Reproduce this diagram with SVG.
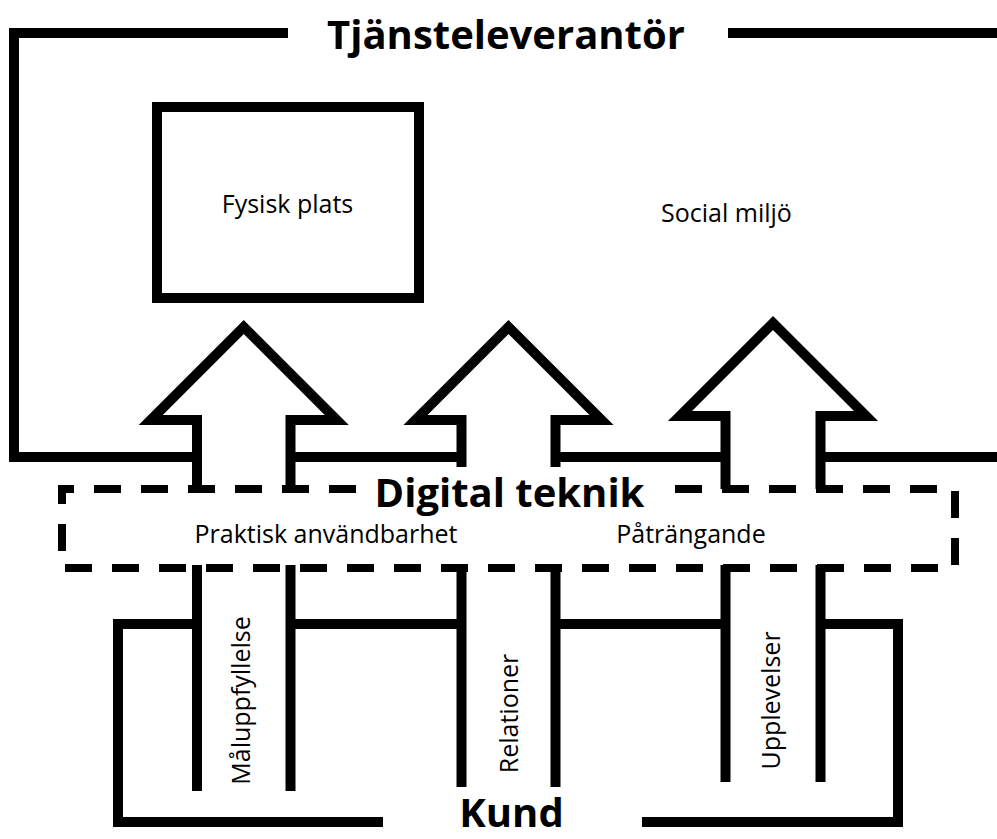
<svg xmlns="http://www.w3.org/2000/svg" width="997" height="839" viewBox="0 0 997 839">
<style>
.ln{fill:none;stroke:#000;stroke-width:10;stroke-linecap:butt;stroke-linejoin:miter;stroke-miterlimit:10}
.dash{fill:none;stroke:#000;stroke-width:8;stroke-dasharray:27 20}
.t{font-family:"Open Sans","Noto Sans",sans-serif;fill:#000;text-anchor:middle}
.b{font-weight:bold;font-size:40px}
.r{font-size:25px}
</style>
<rect width="997" height="839" fill="#fff"/>
<g id="tjansteleverantor">
<polyline class="ln" points="288,33 14,33 14,457 197,457"/>
<line class="ln" x1="728" y1="33" x2="997" y2="33"/>
<line class="ln" x1="290.5" y1="457" x2="461.5" y2="457"/>
<line class="ln" x1="555.5" y1="457" x2="725.5" y2="457"/>
<line class="ln" x1="820.5" y1="457" x2="997" y2="457"/>
<text class="t b" x="506" y="49">Tjänsteleverantör</text>
</g>
<g id="fysisk-plats">
<rect class="ln" x="157" y="107" width="262" height="191"/>
<text class="t r" x="287.5" y="213">Fysisk plats</text>
</g>
<g id="social-miljo">
<text class="t r" x="726.5" y="222">Social miljö</text>
</g>
<g id="digital-teknik">
<path class="dash" d="M356,489 H62 V568 H955 V489 H660"/>
<text class="t b" x="509.5" y="507">Digital teknik</text>
<text class="t r" x="326" y="543">Praktisk användbarhet</text>
<text class="t r" x="691" y="543">Påträngande</text>
</g>
<g id="kund">
<polyline class="ln" points="197,624 118,624 118,822 383,822"/>
<line class="ln" x1="290.5" y1="624" x2="461.5" y2="624"/>
<line class="ln" x1="555.5" y1="624" x2="725.5" y2="624"/>
<polyline class="ln" points="820.5,624 898,624 898,822 642,822"/>
<text class="t b" x="511.5" y="827">Kund</text>
</g>
<g id="connectors">
<g id="arrow-maluppfyllelse">
<polyline class="ln" points="197,489 197,420 150.75,420 243.75,327 336.75,420 290.5,420 290.5,489"/>
<line class="ln" x1="197" y1="565" x2="197" y2="791"/>
<line class="ln" x1="290.5" y1="565" x2="290.5" y2="791"/>
<text class="t r" transform="translate(250,700.5) rotate(-90)">Måluppfyllelse</text>
</g>
<g id="arrow-relationer">
<polyline class="ln" points="461.5,467 461.5,420 415.5,420 508.5,327 601.5,420 555.5,420 555.5,467"/>
<line class="ln" x1="461.5" y1="565" x2="461.5" y2="787"/>
<line class="ln" x1="555.5" y1="565" x2="555.5" y2="787"/>
<text class="t r" transform="translate(518,713.5) rotate(-90)">Relationer</text>
</g>
<g id="arrow-upplevelser">
<polyline class="ln" points="725.5,489 725.5,416 680,416 773,323 866,416 820.5,416 820.5,489"/>
<line class="ln" x1="725.5" y1="565" x2="725.5" y2="782"/>
<line class="ln" x1="820.5" y1="565" x2="820.5" y2="782"/>
<text class="t r" transform="translate(780,700.5) rotate(-90)">Upplevelser</text>
</g>
</g>
</svg>
